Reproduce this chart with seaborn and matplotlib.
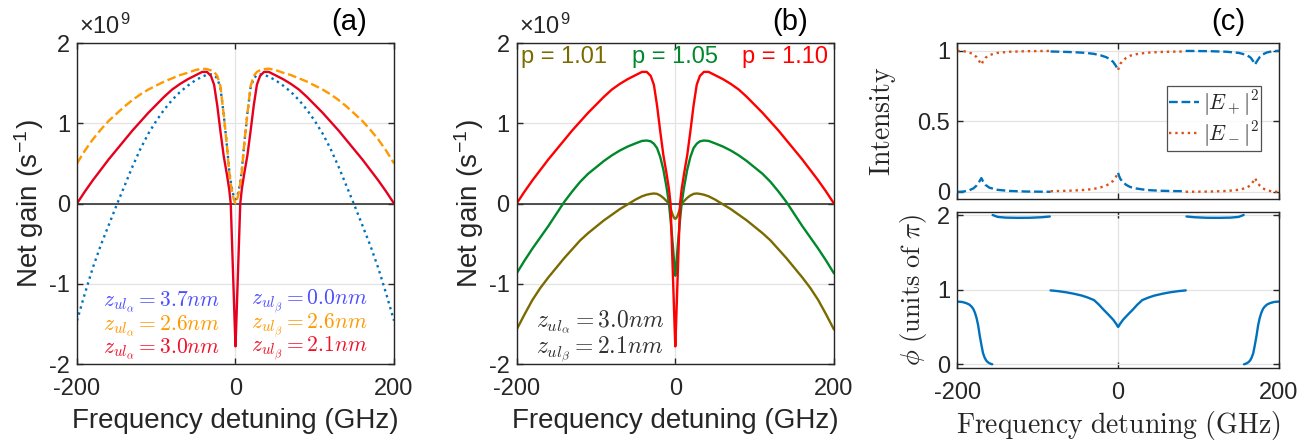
import numpy as np
import pandas as pd
import matplotlib
matplotlib.use("Agg")
import matplotlib.pyplot as plt
from matplotlib.lines import Line2D
import seaborn as sns

sns.set_style("ticks")
plt.rcParams['font.family'] = ['Liberation Sans', 'DejaVu Sans']
plt.rcParams['mathtext.fontset'] = 'cm'
plt.rcParams['axes.unicode_minus'] = False
plt.rcParams['xtick.direction'] = 'in'
plt.rcParams['ytick.direction'] = 'in'
plt.rcParams['xtick.top'] = True
plt.rcParams['ytick.right'] = True

# ---- panel (a) / (b): net gain vs detuning (units of 1e9 s^-1) ----
freq_ab = [-200, -190, -180, -170, -160, -150, -140, -130, -120, -110, -100, -90, -80, -70, -60, -50,
           -42, -36, -31, -27, -23, -19, -15, -11, -8, -6, -4, -2.5, -1, 0,
           1, 2.5, 4, 6, 8, 11, 15, 19, 23, 27, 31, 36, 42,
           50, 60, 70, 80, 90, 100, 110, 120, 130, 140, 150, 160, 170, 180, 190, 200]

gain_red = [0.00, 0.15, 0.29, 0.42, 0.55, 0.67, 0.79, 0.91, 1.02, 1.13, 1.23, 1.33, 1.42, 1.49, 1.55, 1.60,
            1.64, 1.64, 1.59, 1.48, 1.22, 0.90, 0.60, 0.37, 0.18, 0.00, -0.60, -1.05, -1.50, -1.78,
            -1.50, -1.05, -0.60, 0.00, 0.18, 0.37, 0.60, 0.90, 1.22, 1.48, 1.59, 1.64, 1.64,
            1.60, 1.55, 1.49, 1.42, 1.33, 1.23, 1.13, 1.02, 0.91, 0.79, 0.67, 0.55, 0.42, 0.29, 0.15, 0.00]
gain_orange = [0.50, 0.66, 0.80, 0.92, 1.03, 1.12, 1.21, 1.29, 1.36, 1.42, 1.47, 1.52, 1.56, 1.60, 1.63, 1.665,
               1.68, 1.675, 1.66, 1.64, 1.59, 1.46, 1.12, 0.74, 0.40, 0.25, 0.13, 0.07, 0.02, 0.00,
               0.02, 0.07, 0.13, 0.25, 0.40, 0.74, 1.12, 1.46, 1.59, 1.64, 1.66, 1.675, 1.68,
               1.665, 1.63, 1.60, 1.56, 1.52, 1.47, 1.42, 1.36, 1.29, 1.21, 1.12, 1.03, 0.92, 0.80, 0.66, 0.50]
gain_blue = [-1.46, -1.12, -0.80, -0.52, -0.27, -0.02, 0.22, 0.46, 0.68, 0.87, 1.03, 1.17, 1.29, 1.39, 1.47, 1.54,
             1.58, 1.605, 1.61, 1.60, 1.56, 1.44, 1.12, 0.74, 0.42, 0.27, 0.16, 0.10, 0.06, 0.05,
             0.06, 0.10, 0.16, 0.27, 0.42, 0.74, 1.12, 1.44, 1.56, 1.60, 1.61, 1.605, 1.58,
             1.54, 1.47, 1.39, 1.29, 1.17, 1.03, 0.87, 0.68, 0.46, 0.22, -0.02, -0.27, -0.52, -0.80, -1.12, -1.46]
gain_green = [-0.87, -0.71, -0.56, -0.42, -0.28, -0.13, 0.02, 0.15, 0.27, 0.37, 0.45, 0.53, 0.60, 0.66, 0.71, 0.75,
              0.78, 0.785, 0.775, 0.745, 0.69, 0.58, 0.42, 0.20, 0.00, -0.20, -0.42, -0.60, -0.80, -0.90,
              -0.80, -0.60, -0.42, -0.20, 0.00, 0.20, 0.42, 0.58, 0.69, 0.745, 0.775, 0.785, 0.78,
              0.75, 0.71, 0.66, 0.60, 0.53, 0.45, 0.37, 0.27, 0.15, 0.02, -0.13, -0.28, -0.42, -0.56, -0.71, -0.87]
gain_olive = [-1.57, -1.38, -1.20, -1.05, -0.92, -0.80, -0.68, -0.57, -0.46, -0.37, -0.29, -0.21, -0.14, -0.07, -0.01, 0.05,
              0.09, 0.11, 0.12, 0.125, 0.12, 0.10, 0.07, 0.03, 0.00, -0.06, -0.12, -0.16, -0.185, -0.19,
              -0.185, -0.16, -0.12, -0.06, 0.00, 0.03, 0.07, 0.10, 0.12, 0.125, 0.12, 0.11, 0.09,
              0.05, -0.01, -0.07, -0.14, -0.21, -0.29, -0.37, -0.46, -0.57, -0.68, -0.80, -0.92, -1.05, -1.20, -1.38, -1.57]

labels_a_alpha = [r'$z_{ul_\alpha} = 3.7nm$', r'$z_{ul_\alpha} = 2.6nm$', r'$z_{ul_\alpha} = 3.0nm$']
labels_a_beta = [r'$z_{ul_\beta} = 0.0nm$', r'$z_{ul_\beta} = 2.6nm$', r'$z_{ul_\beta} = 2.1nm$']
labels_b_p = ['p = 1.01', 'p = 1.05', 'p = 1.10']

# ---- panel (c): intensities, split in segments ----
freq_c = [-200, -192, -185, -180, -176, -173, -170, -168, -165, -160, -150, -135, -115, -100, -84,
          -84, -70, -55, -40, -30, -22, -15, -10, -6, -3, -1, 0,
          0, 1, 3, 6, 10, 15, 22, 30, 40, 55, 70, 84,
          84, 100, 115, 135, 150, 160, 165, 168, 170, 173, 176, 180, 185, 192, 200]
seg_c = [1] * 15 + [2] * 12 + [3] * 12 + [4] * 15
e_plus = [0.0, 0.003, 0.012, 0.025, 0.045, 0.07, 0.098, 0.075, 0.05, 0.03, 0.015, 0.007, 0.003, 0.002, 0.001,
          0.995, 0.993, 0.99, 0.985, 0.978, 0.968, 0.955, 0.94, 0.92, 0.895, 0.875, 0.865,
          0.135, 0.115, 0.09, 0.07, 0.05, 0.035, 0.025, 0.018, 0.012, 0.008, 0.006, 0.005,
          0.999, 0.998, 0.997, 0.993, 0.985, 0.97, 0.95, 0.925, 0.902, 0.93, 0.955, 0.975, 0.988, 0.997, 1.0]
e_minus = [1.0, 0.997, 0.988, 0.975, 0.955, 0.93, 0.902, 0.925, 0.95, 0.97, 0.985, 0.993, 0.997, 0.998, 0.999,
           0.005, 0.007, 0.01, 0.015, 0.022, 0.032, 0.045, 0.06, 0.08, 0.105, 0.125, 0.135,
           0.865, 0.885, 0.91, 0.93, 0.95, 0.965, 0.975, 0.982, 0.988, 0.992, 0.994, 0.995,
           0.001, 0.002, 0.003, 0.007, 0.015, 0.03, 0.05, 0.075, 0.098, 0.07, 0.045, 0.025, 0.012, 0.003, 0.0]

# ---- panel (c): relative phase (units of pi) ----
freq_phi = [-200, -194, -189, -185, -182, -180, -178, -176, -174, -172, -170, -168, -166, -164, -162, -160, -158, -156.5,
            -156, -150, -140, -125, -110, -95, -85,
            -84, -75, -65, -55, -45, -38, -30, -24, -18, -13, -9, -6, -4, -2, -1, 0,
            1, 2, 4, 6, 9, 13, 18, 24, 30, 38, 45, 55, 65, 75, 84,
            85, 95, 110, 125, 140, 150, 156,
            156.5, 158, 160, 162, 164, 166, 168, 170, 172, 174, 176, 178, 180, 182, 185, 189, 194, 200]
seg_phi = [1] * 18 + [2] * 7 + [3] * 31 + [4] * 7 + [5] * 18
phi = [0.84, 0.835, 0.82, 0.80, 0.77, 0.74, 0.69, 0.62, 0.52, 0.38, 0.26, 0.15, 0.09, 0.05, 0.028, 0.014, 0.005, 0.0,
       2.0, 1.975, 1.965, 1.962, 1.963, 1.97, 1.98,
       0.99, 0.98, 0.965, 0.945, 0.92, 0.895, 0.86, 0.80, 0.73, 0.675, 0.63, 0.595, 0.565, 0.535, 0.515, 0.50,
       0.515, 0.535, 0.565, 0.595, 0.63, 0.675, 0.73, 0.80, 0.86, 0.895, 0.92, 0.945, 0.965, 0.98, 0.99,
       1.98, 1.97, 1.963, 1.962, 1.965, 1.975, 2.0,
       0.0, 0.005, 0.014, 0.028, 0.05, 0.09, 0.15, 0.26, 0.38, 0.52, 0.62, 0.69, 0.74, 0.77, 0.80, 0.82, 0.835, 0.84]

TXT = '#262626'
C_BLUE = '#0072BD'
C_ORANGE = '#FF9900'
C_RED_A = '#E6001E'
C_RED = '#FF0000'
C_GREEN = '#00882B'
C_OLIVE = '#7A6B00'
C_DORANGE = '#D95319'
LW = 1.7


def style_axes(ax, xticks, yticks, ytl=None, xlabels=True):
    ax.set_xlim(-200, 200)
    ax.set_xticks(xticks)
    ax.set_yticks(yticks)
    if ytl is not None:
        ax.set_yticklabels(ytl)
    if not xlabels:
        ax.set_xticklabels([])
    ax.grid(True, color='#e3e3e3', lw=0.9)
    ax.set_axisbelow(True)
    for s in ax.spines.values():
        s.set_color(TXT)
        s.set_linewidth(1.0)
    ax.tick_params(axis='both', labelsize=17, colors=TXT, length=4, width=1.0)
    ax.tick_params(axis='x', pad=10)
    ax.tick_params(axis='y', pad=5)


fig = plt.figure(figsize=(13.16, 4.43), dpi=100)
ax_a = fig.add_axes([0.0585, 0.1783, 0.2409, 0.7246])
ax_b = fig.add_axes([0.3926, 0.1783, 0.2411, 0.7246])
ax_c1 = fig.add_axes([0.7274, 0.5508, 0.2445, 0.3521])
ax_c2 = fig.add_axes([0.7274, 0.1693, 0.2445, 0.3521])

# (a)
ax_a.axhline(0, color='#333333', lw=1.2, zorder=1)
sns.lineplot(x=freq_ab, y=gain_blue, ax=ax_a, color=C_BLUE, linestyle=':', lw=LW)
sns.lineplot(x=freq_ab, y=gain_orange, ax=ax_a, color=C_ORANGE, linestyle='--', lw=LW)
sns.lineplot(x=freq_ab, y=gain_red, ax=ax_a, color=C_RED_A, linestyle='-', lw=LW)
ax_a.set_ylim(-2, 2)
style_axes(ax_a, [-200, 0, 200], [-2, -1, 0, 1, 2])
ax_a.set_xlabel('Frequency detuning (GHz)', fontsize=20, color=TXT, labelpad=6)
ax_a.set_ylabel('Net gain (s$^{\\mathregular{-1}}$)', fontsize=20, color=TXT, labelpad=2)
text_cols = ['#4D4DFF', '#FF9900', '#F01028']
for i, yy in enumerate([-1.23, -1.52, -1.81]):
    ax_a.text(-167, yy, labels_a_alpha[i], color=text_cols[i], fontsize=15.5, va='center', ha='left')
    ax_a.text(20, yy, labels_a_beta[i], color=text_cols[i], fontsize=15.5, va='center', ha='left')

# (b)
ax_b.axhline(0, color='#333333', lw=1.2, zorder=1)
sns.lineplot(x=freq_ab, y=gain_olive, ax=ax_b, color=C_OLIVE, lw=LW)
sns.lineplot(x=freq_ab, y=gain_green, ax=ax_b, color=C_GREEN, lw=LW)
sns.lineplot(x=freq_ab, y=gain_red, ax=ax_b, color=C_RED, lw=LW)
ax_b.set_ylim(-2, 2)
style_axes(ax_b, [-200, 0, 200], [-2, -1, 0, 1, 2])
ax_b.set_xlabel('Frequency detuning (GHz)', fontsize=20, color=TXT, labelpad=6)
ax_b.set_ylabel('Net gain (s$^{\\mathregular{-1}}$)', fontsize=20, color=TXT, labelpad=2)
for xx, lab, col in zip([-194, -54, 84], labels_b_p, [C_OLIVE, C_GREEN, C_RED]):
    ax_b.text(xx, 1.83, lab, color=col, fontsize=17, va='center', ha='left')
ax_b.text(-175, -1.48, r'$z_{ul_\alpha} = 3.0nm$', color='#333333', fontsize=17, va='center')
ax_b.text(-175, -1.82, r'$z_{ul_\beta} = 2.1nm$', color='#333333', fontsize=17, va='center')

# (c) intensity
df_c = pd.DataFrame({'f': freq_c, 'seg': seg_c, 'Ep': e_plus, 'Em': e_minus})
sns.lineplot(data=df_c, x='f', y='Ep', units='seg', estimator=None, ax=ax_c1,
             color=C_BLUE, linestyle='--', lw=LW)
sns.lineplot(data=df_c, x='f', y='Em', units='seg', estimator=None, ax=ax_c1,
             color=C_DORANGE, linestyle=':', lw=LW)
ax_c1.set_ylim(-0.05, 1.055)
style_axes(ax_c1, [-200, 0, 200], [0, 0.5, 1], ytl=['0', '0.5', '1'], xlabels=False)
ax_c1.set_xlabel('')
ax_c1.set_ylabel(r'$\mathrm{Intensity}$', fontsize=20, color=TXT, labelpad=14)
handles = [Line2D([], [], color=C_BLUE, linestyle='--', lw=LW),
           Line2D([], [], color=C_DORANGE, linestyle=':', lw=LW)]
leg = ax_c1.legend(handles, [r'$|E_+|^2$', r'$|E_-|^2$'], loc='center right',
                   bbox_to_anchor=(0.945, 0.515), fontsize=15.5, frameon=True, fancybox=False,
                   handlelength=1.35, handletextpad=0.2, borderpad=0.12, labelspacing=0.02,
                   borderaxespad=0)
leg.get_frame().set_edgecolor(TXT)
leg.get_frame().set_linewidth(0.9)

# (c) phase
df_phi = pd.DataFrame({'f': freq_phi, 'seg': seg_phi, 'phi': phi})
sns.lineplot(data=df_phi, x='f', y='phi', units='seg', estimator=None, ax=ax_c2,
             color=C_BLUE, lw=LW)
ax_c2.set_ylim(-0.05, 2.04)
style_axes(ax_c2, [-200, 0, 200], [0, 1, 2])
ax_c2.set_xlabel(r'$\mathrm{Frequency\ detuning\ (GHz)}$', fontsize=20, color=TXT, labelpad=4)
ax_c2.set_ylabel(r'$\phi\ \mathrm{(units\ of\ }\pi\mathrm{)}$', fontsize=19, color=TXT, labelpad=6)

# panel tags and exponent
fig.text(349 / 1316, 1 - 22 / 443, '(a)', fontsize=21, color='black', ha='center', va='center')
fig.text(790 / 1316, 1 - 22 / 443, '(b)', fontsize=21, color='black', ha='center', va='center')
fig.text(1228 / 1316, 1 - 22 / 443, '(c)', fontsize=21, color='black', ha='center', va='center')
for x0 in [79, 519]:
    fig.text(x0 / 1316, 1 - 26 / 443, '×10$^{\\mathregular{9}}$', fontsize=17, color=TXT,
             ha='left', va='center')

fig.savefig('out.png', dpi=100)
